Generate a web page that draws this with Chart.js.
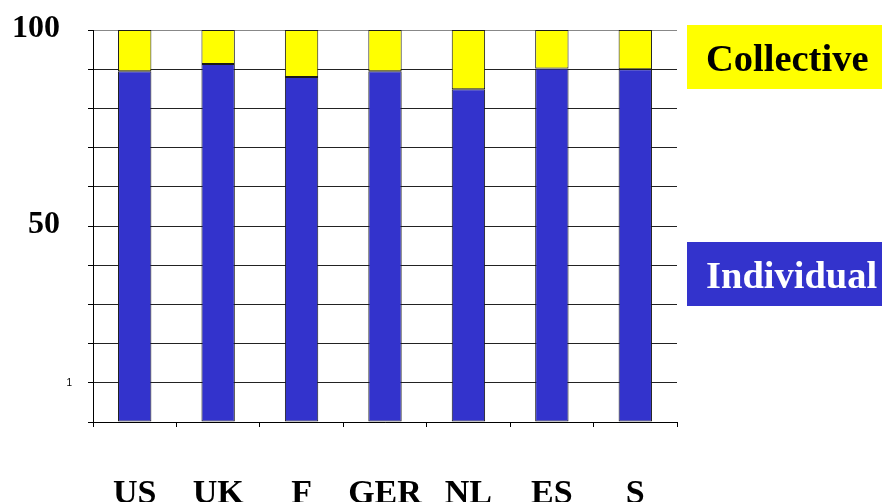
<!DOCTYPE html>
<html>
<head>
<meta charset="utf-8">
<script src="https://cdn.jsdelivr.net/npm/chart.js@4.4.0/dist/chart.umd.min.js"></script>
<style>
  html, body { margin: 0; padding: 0; background: #fff; }
  #wrap { width: 882px; height: 502px; }
</style>
</head>
<body>
<div id="wrap"><canvas id="chart"></canvas></div>
<script>
const countries = ['US', 'UK', 'F', 'GER', 'NL', 'ES', 'S'];
const individual = [89.5, 91.3, 88.0, 89.5, 84.9, 90.2, 90.0];
const collective = [10.5, 8.7, 12.0, 10.5, 15.1, 9.8, 10.0];
const yTickValues = [100, 50, 10];
const yTickLabels = ['100', '50', '1'];

const blue = '#3333CC';
const yellow = '#FFFF00';
const serif = '"Liberation Serif", "Times New Roman", serif';

// y labels are drawn by hand: the big bold ones and the tiny "1" sit at different offsets
const yLabelsPlugin = {
  id: 'yLabels',
  afterDraw(chart) {
    const { ctx, chartArea, scales } = chart;
    ctx.save();
    ctx.fillStyle = '#000';
    ctx.textAlign = 'right';
    ctx.textBaseline = 'middle';
    yTickValues.forEach((v, i) => {
      const y = scales.y.getPixelForValue(v);
      if (yTickLabels[i].length > 1) {
        ctx.font = 'bold 32px ' + serif;
        ctx.fillText(yTickLabels[i], chartArea.left - 33, y - 1);
      } else {
        ctx.font = '10px "Liberation Sans", Arial, sans-serif';
        ctx.fillText(yTickLabels[i], chartArea.left - 21, y);
      }
    });
    ctx.restore();
  }
};

// coloured boxes to the right of the plot, one per series
const boxLegendPlugin = {
  id: 'boxLegend',
  afterDraw(chart) {
    const { ctx, chartArea } = chart;
    const x = chartArea.right + 10;
    const boxes = [
      { ds: 1, top: 25, text: '#000' },
      { ds: 0, top: 242, text: '#fff' }
    ];
    ctx.save();
    boxes.forEach(b => {
      const ds = chart.data.datasets[b.ds];
      ctx.fillStyle = ds.backgroundColor;
      ctx.fillRect(x, b.top, 882 - x, 64);
      ctx.fillStyle = b.text;
      ctx.font = 'bold 38.5px ' + serif;
      ctx.textAlign = 'left';
      ctx.textBaseline = 'alphabetic';
      ctx.fillText(ds.label, x + 19, b.top + 46);
    });
    ctx.restore();
  }
};

new Chart(document.getElementById('chart'), {
  type: 'bar',
  data: {
    labels: countries,
    datasets: [
      {
        label: 'Individual',
        data: individual,
        backgroundColor: blue,
        borderColor: '#1a1a1a',
        borderWidth: 1,
        borderSkipped: false
      },
      {
        label: 'Collective',
        data: collective,
        backgroundColor: yellow,
        borderColor: '#1a1a1a',
        borderWidth: 1,
        borderSkipped: false
      }
    ]
  },
  options: {
    responsive: true,
    maintainAspectRatio: false,
    animation: false,
    layout: { padding: { top: 30, right: 205, left: 0, bottom: 0 } },
    plugins: {
      legend: { display: false },
      tooltip: { enabled: false }
    },
    datasets: {
      bar: { categoryPercentage: 1.0, barPercentage: 0.4 }
    },
    scales: {
      x: {
        stacked: true,
        afterFit: s => { s.height = 80; },
        border: { color: '#000', width: 1 },
        grid: {
          offset: true,
          drawOnChartArea: true,
          color: c => (c.index === countries.length ? '#888' : 'rgba(0,0,0,0)'),
          tickColor: '#000',
          tickLength: 5
        },
        ticks: {
          color: '#000',
          padding: 47,
          font: { family: serif, size: 34, weight: 'bold' }
        }
      },
      y: {
        stacked: true,
        min: 0,
        max: 100,
        afterFit: s => { s.width = 93; },
        border: { color: '#000', width: 1 },
        grid: {
          color: c => (c.tick && c.tick.value === 100 ? '#888' : '#222'),
          tickColor: '#000',
          tickLength: 5
        },
        ticks: { stepSize: 10, display: false }
      }
    }
  },
  plugins: [yLabelsPlugin, boxLegendPlugin]
});
</script>
</body>
</html>
